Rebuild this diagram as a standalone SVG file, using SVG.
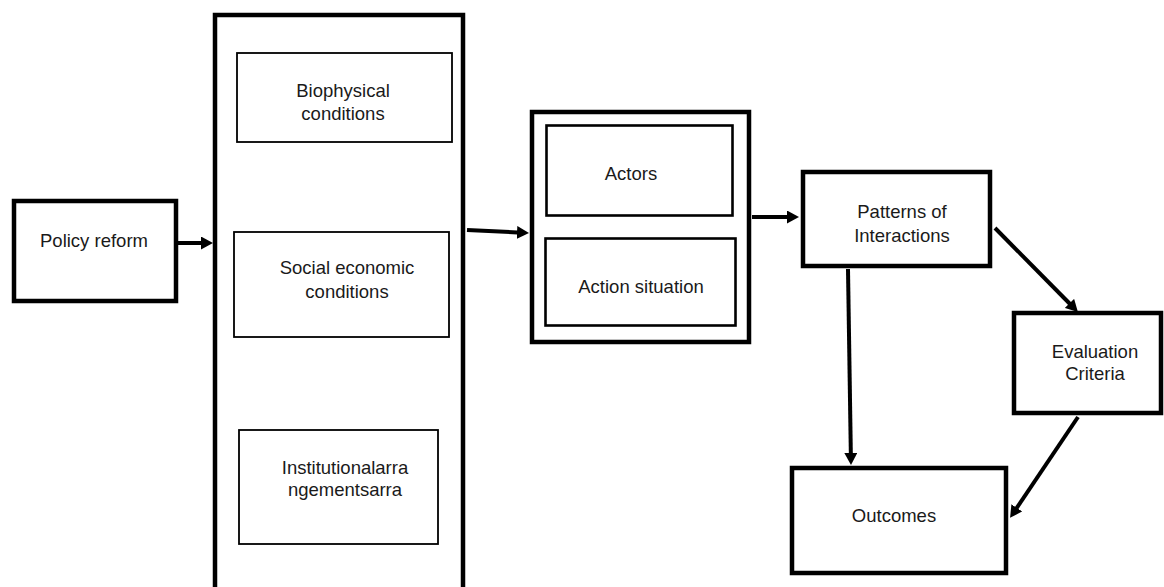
<svg xmlns="http://www.w3.org/2000/svg" width="1164" height="587" viewBox="0 0 1164 587">
  <style>
    .thick { fill: #ffffff; stroke: #000000; stroke-width: 4.5; }
    .thin { fill: #ffffff; stroke: #000000; stroke-width: 1.8; }
    .mid { fill: #ffffff; stroke: #000000; stroke-width: 2.6; }
    .lbl { font-family: "Liberation Sans", Arial, sans-serif; font-size: 18.5px; fill: #1a1a1a; text-anchor: middle; }
    .conn { stroke: #000000; stroke-width: 4; fill: none; marker-end: url(#arrow); }
  </style>
  <defs>
    <marker id="arrow" markerUnits="userSpaceOnUse" viewBox="0 0 12 13" markerWidth="12" markerHeight="13" refX="5" refY="6.5" orient="auto">
      <path d="M0,0 L12,6.5 L0,13 z" fill="#000000"/>
    </marker>
  </defs>
  <rect width="1164" height="587" fill="#ffffff"/>

  <g id="policy-reform">
    <rect class="thick" x="14" y="201" width="162" height="100"/>
    <text class="lbl" x="94" y="247">Policy reform</text>
  </g>

  <g id="context">
    <rect class="thick" x="215" y="15" width="248" height="600"/>
  </g>

  <g id="biophysical">
    <rect class="thin" x="237" y="53" width="215" height="89"/>
    <text class="lbl" x="343" y="97">Biophysical</text>
    <text class="lbl" x="343" y="120">conditions</text>
  </g>

  <g id="social-economic">
    <rect class="thin" x="234" y="232" width="215" height="105"/>
    <text class="lbl" x="347" y="274">Social economic</text>
    <text class="lbl" x="347" y="298">conditions</text>
  </g>

  <g id="institutional">
    <rect class="thin" x="239" y="430" width="199" height="114"/>
    <text class="lbl" x="345" y="474">Institutionalarra</text>
    <text class="lbl" x="345" y="496">ngementsarra</text>
  </g>

  <g id="action-arena">
    <rect class="thick" x="532" y="112" width="217" height="230"/>
  </g>

  <g id="actors">
    <rect class="mid" x="546.5" y="125.5" width="186" height="90"/>
    <text class="lbl" x="631" y="180">Actors</text>
  </g>

  <g id="action-situation">
    <rect class="mid" x="545.5" y="238.5" width="190" height="87"/>
    <text class="lbl" x="641" y="293">Action situation</text>
  </g>

  <g id="patterns">
    <rect class="thick" x="803" y="172" width="187" height="94"/>
    <text class="lbl" x="902" y="218">Patterns of</text>
    <text class="lbl" x="902" y="242">Interactions</text>
  </g>

  <g id="evaluation">
    <rect class="thick" x="1014" y="313" width="147" height="100"/>
    <text class="lbl" x="1095" y="358">Evaluation</text>
    <text class="lbl" x="1095" y="380">Criteria</text>
  </g>

  <g id="outcomes">
    <rect class="thick" x="792" y="468" width="214" height="105"/>
    <text class="lbl" x="894" y="522">Outcomes</text>
  </g>

  <g id="connectors">
    <line class="conn" x1="178" y1="243" x2="206" y2="243"/>
    <line class="conn" x1="467" y1="230" x2="522" y2="232.7"/>
    <line class="conn" x1="752" y1="217" x2="792" y2="217"/>
    <line class="conn" x1="995" y1="228" x2="1073" y2="307"/>
    <line class="conn" x1="848" y1="269" x2="850.9" y2="458"/>
    <line class="conn" x1="1078" y1="417" x2="1014" y2="512"/>
  </g>
</svg>
